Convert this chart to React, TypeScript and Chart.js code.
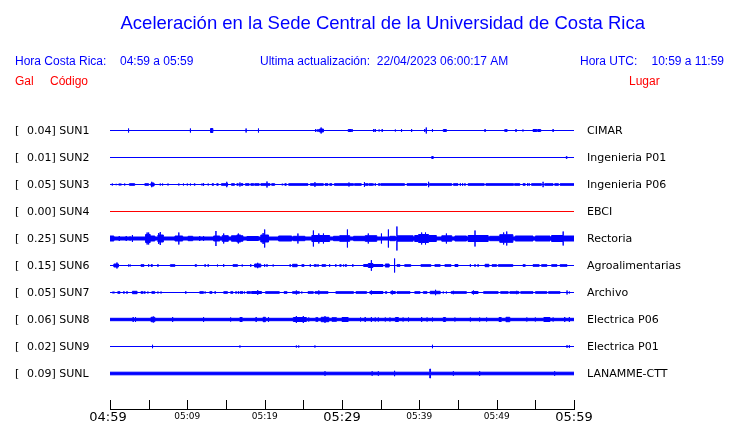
import { useEffect, useRef } from "react";
import { Chart, registerables } from "chart.js";

Chart.register(...registerables);

const TITLE = "Aceleración en la Sede Central de la Universidad de Costa Rica";
const HEADER_LEFT = ["Hora Costa Rica:", "04:59 a 05:59"];
const HEADER_MID = "Ultima actualización:  22/04/2023 06:00:17 AM";
const HEADER_RIGHT = ["Hora UTC:", "10:59 a 11:59"];
const COLUMN_HEADS = ["Gal", "Código", "Lugar"];

const codes = ["SUN1", "SUN2", "SUN3", "SUN4", "SUN5", "SUN6", "SUN7", "SUN8", "SUN9", "SUNL"];
const places = ["CIMAR", "Ingenieria P01", "Ingenieria P06", "EBCI", "Rectoria", "Agroalimentarias", "Archivo", "Electrica P06", "Electrica P01", "LANAMME-CTT"];
const peaks = ["0.04", "0.01", "0.05", "0.00", "0.25", "0.15", "0.05", "0.06", "0.02", "0.09"];
// background (quiet) half-amplitude of each trace
const baseAmp = [0, 0, 0, 0, 2, 0, 0, 1.7, 0, 1.8];

// minutes after 04:59
const tickMinutes = [0, 5, 10, 15, 20, 25, 30, 35, 40, 45, 50, 55, 60];
const labelMinutes = [0, 10, 20, 30, 40, 50, 60];
const tickLabels = ["04:59", "05:09", "05:19", "05:29", "05:39", "05:49", "05:59"];
const majorLabel = [true, false, false, true, false, false, true];

// events: [start minute, end minute, half amplitude]; start === end -> single spike
type Ev = [number, number, number];

const sun1: Ev[] = [[2.4,2.4,2],[10.4,10.4,2],[13.0,13.3,2.5],[17.6,17.6,2],[19.2,19.2,2],[26.6,26.6,1.5],[26.9,26.9,1.5],[27.1,27.6,2],[27.3,27.3,3],[30.8,31.2,1.5],[31.3,31.3,1.5],[34.1,34.1,1.5],[34.3,34.3,1.5],[34.8,34.8,1],[35.2,35.2,1.5],[36.9,36.9,1],[37.7,37.7,1.5],[39.0,39.0,1.5],[40.7,40.7,1.5],[40.9,40.9,3],[41.7,41.7,1.5],[43.1,43.5,1.5],[48.5,48.5,1.5],[51.1,51.1,1.5],[51.3,51.3,1.5],[52.5,52.5,1.5],[53.4,53.4,1],[54.7,55.2,1.5],[55.3,55.7,1.5],[57.3,57.3,1.5]];

const sun2: Ev[] = [[41.6,41.8,1.5],[59.0,59.1,1.5]];

const sun3: Ev[] = [[0.3,0.3,1],[0.8,0.8,0.7],[1.2,1.2,1],[1.4,1.4,1],[1.9,1.9,1],[2.5,3.2,1.3],[4.5,5.0,1.3],[5.3,5.7,2],[5.4,5.4,2.7],[6.5,6.5,1],[6.8,6.8,1],[7.5,7.5,1],[8.9,8.9,1],[9.5,9.5,1],[10.0,10.0,1],[10.4,10.4,1],[10.9,11.0,1.3],[11.9,11.9,1],[12.1,12.1,1.3],[12.7,12.7,1],[13.2,13.4,1.3],[13.8,14.0,1.3],[14.4,15.0,1.3],[15.1,15.1,2.7],[15.2,15.2,1.3],[15.7,16.1,1.3],[16.4,16.6,1.3],[16.8,16.8,2],[16.9,17.2,1.3],[17.5,18.0,1.3],[18.2,18.6,1.3],[18.7,19.3,1.3],[19.5,20.7,1.3],[20.3,20.3,3],[20.9,21.3,1.3],[22.2,22.4,1],[22.6,22.8,1.3],[23.1,25.6,1.3],[25.9,27.6,1.3],[26.5,26.5,2.3],[27.8,28.2,1.3],[28.4,28.7,1.3],[29.0,31.5,1.3],[30.9,30.9,2],[31.6,32.5,1.3],[32.9,32.9,2.3],[33.0,33.4,1.3],[33.5,33.9,1.3],[34.0,34.0,1.3],[34.3,34.3,1.3],[34.7,34.9,1.3],[35.0,38.1,1.3],[38.4,41.0,1.3],[41.2,41.2,2.7],[41.3,44.2,1.3],[44.4,45.0,1.3],[45.3,45.3,1.3],[45.6,45.6,1.3],[45.9,45.9,1.3],[46.3,48.4,1.3],[48.6,52.2,1.3],[52.3,53.0,1.3],[53.4,53.7,1.3],[54.0,54.0,1.3],[54.2,54.2,1.3],[54.5,55.8,1.3],[56.0,56.0,2.7],[56.2,57.3,1.3],[57.5,58.0,1.3],[58.2,60,1.3]];

const sun4: Ev[] = [];

const sun5: Ev[] = [[0,0.5,3],[1.2,1.2,2.5],[2.1,2.1,2.5],[2.6,2.6,2],[2.9,2.9,3.5],[4.6,5.2,4.5],[4.8,4.8,6],[5.0,5.0,6],[5.2,5.8,3],[6.2,6.9,4],[6.5,6.5,6.5],[6.3,6.3,5.5],[8.4,9.4,3],[8.9,8.9,6],[10.1,10.7,2.7],[11.6,11.6,2.5],[12.1,12.1,2.5],[13.4,14.2,3],[13.7,13.7,7.5],[14.5,15.3,3.3],[14.7,14.7,5],[15.7,17.2,3.2],[16.4,16.9,4],[16.6,16.6,5],[17.7,19.2,2.5],[19.5,20.5,4],[20.0,20.0,9],[19.8,19.8,5.5],[21.8,23.5,3],[23.7,25.2,2.7],[24.3,24.3,5],[26.1,28.4,3.5],[26.3,26.3,8],[27.0,27.0,5],[27.6,27.6,5],[28.9,29.7,2.7],[29.7,31.0,3.3],[30.7,30.7,9],[31.5,33.0,2.7],[33.0,34.5,3.3],[33.4,33.4,5],[35.1,35.1,5],[36.0,36.0,9],[36.2,36.9,2.7],[37.1,37.1,12],[37.1,39.2,3.2],[39.4,42.2,3.5],[39.9,41.2,4.5],[40.3,40.3,6],[40.8,40.8,6],[42.9,44.2,3.2],[43.5,43.5,5],[44.6,46.1,3],[46.3,48.9,3.5],[47.2,47.2,8],[49.1,50.4,2.7],[50.4,52.1,4.3],[51.3,51.3,7],[50.9,50.9,6],[52.4,54.7,3],[55.0,56.9,3],[57.1,58.6,3.5],[58.6,58.6,7],[58.6,60,3]];

const sun6: Ev[] = [[0.5,1.1,2],[0.9,0.9,3],[2.4,2.4,1],[2.6,2.6,1],[4.0,4.4,1.3],[5.0,5.0,1.3],[5.3,5.5,1.3],[6.2,6.2,1.3],[7.8,8.4,1.3],[11.0,11.2,1.3],[12.3,12.3,1.3],[12.7,12.7,1.3],[13.9,13.9,1],[14.7,14.7,1.3],[15.9,16.5,1.3],[17.1,17.1,1],[18.2,18.2,1.3],[18.7,19.5,2],[19.1,19.1,2.7],[20.0,20.0,1.3],[20.3,20.3,1.3],[21.1,21.1,1],[23.3,23.3,1.3],[23.6,24.2,1.7],[24.8,25.1,1.3],[25.9,25.9,1.3],[26.4,26.7,1.3],[26.9,26.9,1.3],[27.4,27.9,1.3],[28.4,28.4,1.3],[29.2,29.2,1.3],[29.7,29.9,1.3],[30.2,30.2,1],[30.4,30.6,1.3],[31.4,31.4,1.3],[32.8,33.4,1.5],[33.4,34.0,2.5],[33.8,33.8,5.3],[34.0,35.3,1.5],[35.6,36.1,2],[36.8,36.8,7],[37.1,37.5,1.3],[38.1,38.9,1.3],[40.2,41.5,1.3],[42.0,42.7,1.3],[43.3,44.1,1.3],[44.6,45.0,1.5],[46.6,46.6,1.3],[47.2,47.2,1.3],[47.6,47.6,1.3],[48.5,49.0,1.7],[49.4,50.0,1.3],[50.2,52.1,1.3],[53.4,53.7,1.3],[54.7,55.5,1.3],[55.8,56.5,1.3],[57.1,57.8,1.3],[58.2,59.1,1.3]];

const sun7: Ev[] = [[0.3,0.6,1],[1.0,1.3,1.3],[1.8,1.8,1.3],[2.2,2.2,1.3],[2.9,3.5,1.7],[4.0,4.3,1.3],[4.5,4.5,1.3],[4.9,4.9,1],[5.4,5.8,1.3],[6.2,6.2,1],[6.6,6.6,1],[9.8,9.8,1.3],[11.6,12.1,1.3],[12.3,12.3,1],[12.9,13.2,1.3],[13.6,13.6,1.3],[14.7,15.2,1.3],[15.6,15.9,1.3],[16.3,16.3,1.3],[16.6,16.6,1.3],[16.8,17.2,1.3],[17.4,17.4,1],[17.7,18.2,1.3],[18.3,19.6,1.5],[19.1,19.1,2.3],[20.1,21.9,1.3],[22.5,22.9,1.3],[23.6,24.5,1.3],[24.1,24.1,2],[24.8,24.8,1],[25.6,26.3,1.3],[26.5,28.2,1.3],[27.0,27.0,2],[29.2,31.5,1.3],[31.8,33.2,1.3],[33.6,35.3,1.5],[33.8,33.8,2],[35.6,35.8,1.3],[36.3,36.9,1.5],[36.5,36.5,2],[37.1,38.8,1.3],[39.4,40.1,1.3],[40.5,41.0,1.3],[41.4,42.7,1.7],[42.1,42.1,2.7],[43.1,43.1,1],[43.5,43.5,1],[44.1,46.1,1.3],[44.4,44.4,1.7],[46.8,47.6,1.5],[47.0,47.0,2],[48.3,50.2,1.3],[50.5,51.5,1.3],[51.7,52.9,1.3],[52.6,52.6,1.7],[53.1,54.7,1.3],[55.0,56.5,1.3],[56.7,58.2,1.3],[59.1,59.1,2],[59.4,59.4,1]];

const sun8: Ev[] = [[3.0,3.0,2.5],[3.3,3.3,2.5],[5.3,5.8,2.7],[5.6,5.6,3],[8.1,8.1,2.5],[12.1,12.1,2.5],[15.6,15.6,2],[16.8,17.1,2.5],[18.9,18.9,2.5],[19.8,20.1,2.7],[20.5,20.5,2.3],[23.7,25.4,2.5],[24.1,24.1,3.5],[25.0,25.0,3.5],[25.7,25.7,2],[26.6,26.9,2.3],[27.3,28.3,2.7],[27.8,27.8,3.3],[28.7,29.3,2.3],[30.0,30.8,2.5],[32.4,32.4,2],[33.0,33.0,2.5],[33.8,33.8,2.5],[34.3,34.3,2],[34.7,34.7,2],[35.6,35.6,2],[36.2,36.2,2],[36.9,37.3,2.5],[37.9,37.9,2],[38.6,38.6,2],[40.3,40.3,2.5],[41.0,41.0,2],[41.7,41.7,2],[43.1,43.4,2.5],[44.6,44.6,2],[46.6,46.6,2],[47.8,47.8,2],[48.7,48.7,2],[50.3,50.6,2.5],[51.2,51.7,2.7],[53.9,53.9,2],[55.0,55.0,2],[56.1,56.9,2.5],[57.3,57.3,2],[58.8,58.8,2.5],[59.4,59.4,2.5]];

const sun9: Ev[] = [[5.5,5.5,1.7],[16.8,16.8,1],[24.1,24.1,1],[24.4,24.4,1],[26.5,26.5,1],[41.7,41.7,1.7],[59.1,59.1,1.3],[59.4,59.4,1.3]];

const sunl: Ev[] = [[27.8,27.8,2.2],[33.9,33.9,2.2],[34.7,34.7,2.2],[36.8,36.8,2.7],[41.35,41.45,5],[44.4,44.4,2.2],[47.8,47.8,2.3],[57.5,57.5,2.2]];

const traceEvents: Ev[][] = [sun1, sun2, sun3, sun4, sun5, sun6, sun7, sun8, sun9, sunl];
const traceColors = ["#0000ff", "#0000ff", "#0000ff", "#ff0000", "#0000ff", "#0000ff", "#0000ff", "#0000ff", "#0000ff", "#0000ff"];

const SPACING = 27;
const X_MIN = 0;
const X_MAX = 60;

function envelope(events: Ev[], base: number) {
  const ranges = events.filter((e) => e[1] > e[0]);
  const spikes = events.filter((e) => e[1] <= e[0]);
  const bps = Array.from(new Set([X_MIN, X_MAX, ...ranges.flatMap((r) => [r[0], r[1]]), ...spikes.map((s) => s[0])])).sort((a, b) => a - b);
  const levelAt = (x0: number, x1: number) => {
    let l = Math.max(0, base - 0.5);
    for (const r of ranges) if (r[0] <= x0 && r[1] >= x1) l = Math.max(l, r[2] - 0.5);
    return l;
  };
  const pts: { x: number; a: number }[] = [];
  let prev = levelAt(bps[0], bps[1]);
  pts.push({ x: bps[0], a: prev });
  for (let k = 1; k < bps.length; k++) {
    const x = bps[k];
    const next = k < bps.length - 1 ? levelAt(x, bps[k + 1]) : prev;
    const sp = spikes.filter((s) => s[0] === x).reduce((m, s) => Math.max(m, s[2]), 0);
    if (sp > Math.max(prev, next)) pts.push({ x, a: sp });
    pts.push({ x, a: next });
    prev = next;
  }
  return pts;
}

const textPlugin = {
  id: "seismoTexts",
  afterDraw(chart: any) {
    const ctx = chart.ctx as CanvasRenderingContext2D;
    const xs = chart.scales.x;
    const ys = chart.scales.y;
    ctx.save();
    ctx.textBaseline = "alphabetic";
    ctx.fillStyle = "#0000ff";
    ctx.font = '18.5px "Liberation Sans", Arial, sans-serif';
    ctx.textAlign = "left";
    ctx.fillText(TITLE, 120.5, 29.3);
    ctx.font = '12px "Liberation Sans", Arial, sans-serif';
    ctx.fillText(HEADER_LEFT[0], 15, 65.3);
    ctx.fillText(HEADER_LEFT[1], 120, 65.3);
    ctx.fillText(HEADER_MID, 260, 65.3);
    ctx.fillText(HEADER_RIGHT[0], 580, 65.3);
    ctx.textAlign = "right";
    ctx.fillText(HEADER_RIGHT[1], 724, 65.3);
    ctx.textAlign = "left";
    ctx.fillStyle = "#ff0000";
    ctx.fillText(COLUMN_HEADS[0], 15, 85);
    ctx.fillText(COLUMN_HEADS[1], 50, 85);
    ctx.fillText(COLUMN_HEADS[2], 629, 85);

    ctx.fillStyle = "#000000";
    ctx.font = '11px "DejaVu Sans", sans-serif';
    codes.forEach((c, i) => {
      const y = ys.getPixelForValue(-i * SPACING) + 3.5;
      ctx.fillText("[", 15, y);
      ctx.fillText(`${peaks[i]}] ${c}`, 27, y);
      ctx.fillText(places[i], 587, y);
    });

    // time axis
    const axisY = chart.chartArea.bottom + 0.5;
    ctx.strokeStyle = "#000000";
    ctx.lineWidth = 1;
    ctx.beginPath();
    ctx.moveTo(Math.round(xs.getPixelForValue(X_MIN)), axisY);
    ctx.lineTo(Math.round(xs.getPixelForValue(X_MAX)) + 1, axisY);
    tickMinutes.forEach((t) => {
      const x = Math.round(xs.getPixelForValue(t)) + 0.5;
      ctx.moveTo(x, axisY - 9.5);
      ctx.lineTo(x, axisY);
    });
    ctx.stroke();
    ctx.textAlign = "center";
    ctx.textBaseline = "alphabetic";
    labelMinutes.forEach((t, i) => {
      const x = xs.getPixelForValue(t);
      if (majorLabel[i]) {
        ctx.font = '13px "DejaVu Sans", sans-serif';
        ctx.fillText(tickLabels[i], x - (i === 0 ? 2 : 0), 420.5);
      } else {
        ctx.font = '9px "DejaVu Sans", sans-serif';
        ctx.fillText(tickLabels[i], x, 418.6);
      }
    });
    ctx.restore();
  },
};

export default function App() {
  const ref = useRef<HTMLCanvasElement | null>(null);
  useEffect(() => {
    if (!ref.current) return;
    const datasets: any[] = [];
    traceEvents.forEach((evs, i) => {
      const c = -i * SPACING;
      const pts = envelope(evs, baseAmp[i]);
      const common = {
        borderColor: traceColors[i],
        backgroundColor: traceColors[i],
        borderWidth: 1,
        pointRadius: 0,
        stepped: true,
        tension: 0,
      };
      datasets.push({ ...common, label: codes[i] + " +", data: pts.map((p) => ({ x: p.x, y: c + p.a })), fill: "+1" });
      datasets.push({ ...common, label: codes[i] + " -", data: pts.map((p) => ({ x: p.x, y: c - p.a })), fill: false });
    });
    const chart = new Chart(ref.current, {
      type: "line",
      data: { datasets },
      options: {
        animation: false,
        responsive: false,
        devicePixelRatio: 1,
        events: [],
        layout: { padding: { left: 110, right: 166, top: 116, bottom: 14 } },
        plugins: { legend: { display: false }, tooltip: { enabled: false } },
        scales: {
          x: { type: "linear", min: X_MIN, max: X_MAX, display: false },
          y: { type: "linear", min: 14.5 - 293, max: 14.5, display: false },
        },
      },
      plugins: [textPlugin],
    });
    return () => chart.destroy();
  }, []);
  return (
    <div style={{ position: "absolute", left: 0, top: 0, width: 740, height: 423, background: "#ffffff" }}>
      <canvas ref={ref} width={740} height={423} style={{ display: "block" }} />
    </div>
  );
}
